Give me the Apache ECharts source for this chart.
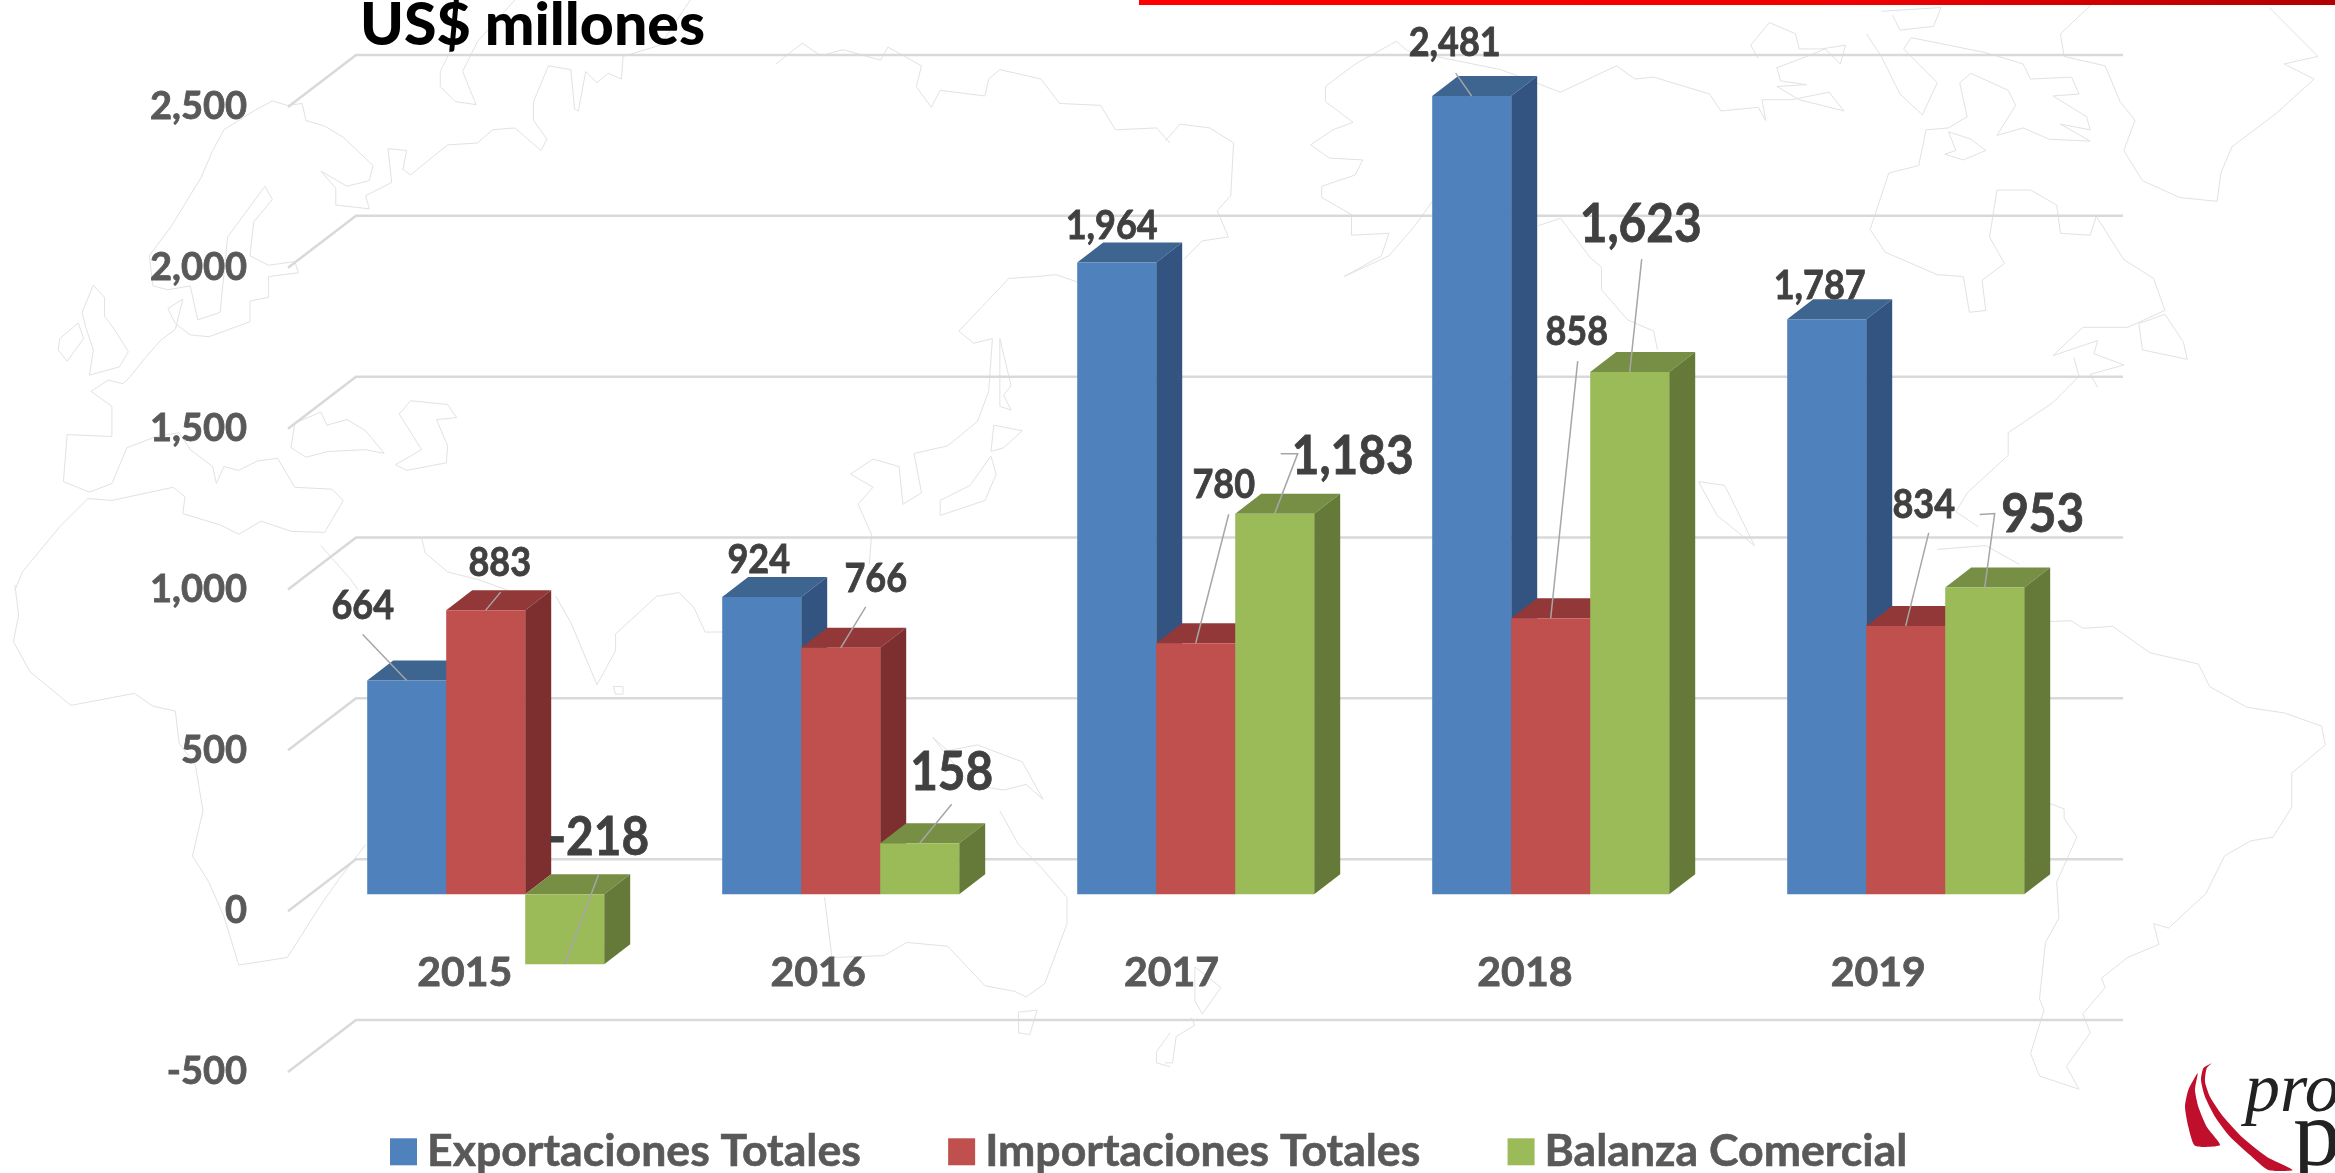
<!DOCTYPE html>
<html>
<head>
<meta charset="utf-8">
<title>US$ millones</title>
<script src="https://cdn.jsdelivr.net/npm/echarts@6/dist/echarts.min.js"></script>
<style>
  html, body { margin: 0; height: 100%; background: #fff; overflow: hidden; }
  #chart { width: 2335px; height: 1173px; }
</style>
</head>
<body>
<div id="chart"></div>
<script>
const years = ['2015', '2016', '2017', '2018', '2019']
const exportaciones = [664, 924, 1964, 2481, 1787]
const importaciones = [883, 766, 780, 858, 834]
const balanza = [-218, 158, 1183, 1623, 953]
const yTicks = [-500, 0, 500, 1000, 1500, 2000, 2500]

const fontName = 'Lato'
const barWidth = 79
const depth = { x: 26, y: -20 }
const wall = { x: 68, y: -52 }
// bars stand a little behind the labelled front edge of the floor
const plane = { x: 21, y: -17 }
// bar groups are spaced slightly wider than the year labels
const barDrift = 1.6

// label position, relative to the middle of the bar's top edge
const exportLabels = [[-44, -74], [-3, -37], [-5, -36], [-17, -53], [-7, -33]]
const importLabels = [[14, -47], [35, -69], [28, -158], [26, -286], [18, -121]]
const balanceLabels = [[34, -126], [32, -70], [78, -57], [11, -147], [58, -73]]
// leader lines, same reference point
const exportLeaders = [[[-44, -46]], null, null, [[-16, -23]], null]
const importLeaders = [[[15, -18]], [[25, -41]], [[33, -129]], [[27, -257]], [[23, -93]]]
const balanceLeaders = [[[34, -90]], [[32, -39]], [[6, -60], [23, -60]], [[12, -113]], [[-5, -73], [10, -74]]]

// background world map, traced by eye. x, y are in zoomed crop units, see mapLine()
const mapTopLeft = [
  [[205, 760], [200, 680], [230, 600], [270, 470], [285, 400], [300, 345], [340, 295], [365, 268], [385, 280], [405, 275], [410, 320], [435, 335], [460, 365], [500, 440], [495, 480], [465, 495], [430, 455], [450, 500], [450, 545], [495, 555], [490, 520], [525, 485], [520, 395], [545, 400], [540, 450], [550, 465], [600, 385], [640, 380], [660, 345], [690, 340], [725, 400], [733, 370], [715, 320], [715, 270], [735, 175], [765, 185], [770, 290], [775, 295], [785, 190], [800, 220], [815, 195], [833, 210], [835, 150], [885, 120], [925, 0]],
  [[605, 130], [590, 190], [590, 230], [610, 270], [638, 278], [620, 190], [640, 110], [690, 0]],
  [[205, 760], [225, 770], [255, 760], [265, 850], [295, 830], [305, 630], [355, 495], [365, 530], [340, 590], [335, 680], [360, 705], [395, 695], [400, 725], [360, 735], [360, 790], [335, 800], [335, 855], [280, 895], [255, 890], [235, 860], [225, 820], [245, 795], [235, 875], [215, 905], [195, 950], [175, 1000], [165, 1020], [145, 1010], [122, 1040], [150, 1080], [150, 1160], [90, 1155], [85, 1280], [120, 1308], [150, 1285], [170, 1190], [210, 1160], [240, 1150], [255, 1195], [285, 1240], [290, 1285], [300, 1240], [320, 1250], [345, 1225], [372, 1218], [395, 1295], [445, 1300], [460, 1330], [435, 1415], [390, 1412], [350, 1385], [320, 1420], [295, 1395], [245, 1365], [248, 1320], [232, 1295], [150, 1330], [118, 1325], [80, 1400], [30, 1520], [20, 1568]],
  [[110, 830], [125, 758], [140, 790], [140, 840], [155, 880], [172, 935], [160, 975], [120, 997], [125, 930], [115, 870], [110, 830]],
  [[80, 900], [105, 858], [112, 900], [90, 960], [78, 930], [80, 900]],
  [[395, 1125], [430, 1095], [438, 1130], [465, 1115], [490, 1145], [515, 1205], [490, 1195], [440, 1200], [410, 1215], [390, 1190], [395, 1125]],
  [[540, 1090], [550, 1065], [600, 1075], [612, 1110], [585, 1115], [600, 1185], [598, 1230], [545, 1250], [530, 1235], [565, 1195], [535, 1100], [540, 1090]],
  [[1040, 170], [1075, 115], [1100, 148], [1130, 132], [1180, 160], [1190, 125], [1235, 175], [1228, 230], [1248, 285], [1260, 240], [1320, 255], [1325, 210], [1340, 185], [1395, 210], [1420, 275], [1475, 280], [1495, 345], [1550, 340], [1568, 380]],
  [[1445, 750], [1415, 730], [1390, 735], [1352, 740], [1285, 880], [1305, 912], [1330, 900], [1325, 1040], [1310, 1120], [1270, 1185], [1225, 1205], [1235, 1310], [1210, 1340], [1205, 1240], [1170, 1220], [1140, 1260], [1170, 1295], [1150, 1340], [1168, 1420], [1165, 1500]],
  [[1340, 900], [1355, 1025], [1345, 1050], [1355, 1090], [1340, 1080], [1340, 900]],
  [[1332, 1130], [1370, 1145], [1345, 1190], [1328, 1200], [1332, 1130]],
  [[1328, 1212], [1335, 1260], [1320, 1330], [1260, 1370], [1260, 1330], [1300, 1290], [1328, 1212]],
  [[565, 1430], [570, 1470], [600, 1520], [640, 1540], [680, 1568]],
  [[430, 1450], [470, 1540], [480, 1568]]
]
const mapBottomLeft = [
  [[20, 0], [25, 80], [18, 150], [40, 230], [95, 320], [180, 288], [205, 322], [235, 335], [240, 420], [262, 480], [272, 600], [258, 720], [280, 790], [300, 880], [320, 1010], [385, 990], [430, 850], [455, 780], [490, 690]],
  [[745, 30], [765, 100], [800, 265], [825, 175], [825, 130], [880, 30], [910, 20], [930, 60], [945, 125], [968, 125]],
  [[822, 270], [835, 270], [835, 290], [825, 290], [822, 270]],
  [[1250, 405], [1270, 440], [1310, 425], [1370, 470], [1398, 570], [1375, 530], [1345, 545], [1300, 530], [1250, 405]],
  [[1340, 600], [1365, 690], [1395, 750], [1430, 830], [1430, 900], [1400, 1060], [1375, 1095], [1360, 1080], [1320, 1065], [1270, 960], [1215, 950], [1185, 985], [1115, 990], [1105, 830]],
  [[1365, 1135], [1390, 1130], [1380, 1195], [1365, 1190], [1365, 1135]],
  [[1568, 1190], [1550, 1240], [1550, 1270], [1568, 1280]]
]
const mapTopRight = [
  [[0, 375], [20, 330], [60, 340], [92, 380], [88, 520], [70, 560], [85, 630], [50, 640], [25, 690]],
  [[215, 230], [255, 170], [310, 110], [325, 135], [450, 185], [530, 245], [605, 175], [630, 210], [655, 205], [730, 250], [745, 295], [795, 285], [805, 320], [800, 265], [840, 265], [890, 245], [910, 295], [850, 265], [820, 230], [860, 225], [825, 215], [820, 180], [860, 150], [885, 130], [905, 170], [912, 120], [880, 130], [850, 130], [845, 90], [810, 60], [785, 120], [795, 155]],
  [[215, 230], [215, 270], [252, 325], [225, 345], [195, 385], [220, 420], [265, 425], [255, 465], [210, 495], [210, 525], [250, 570], [250, 625], [300, 620], [290, 680], [240, 735], [300, 680], [335, 600], [360, 530]],
  [[500, 600], [530, 580], [570, 685], [585, 710], [585, 770], [620, 850], [655, 880], [660, 930]],
  [[940, 90], [960, 150], [985, 250], [1015, 305], [1035, 220], [990, 130], [1000, 100], [1050, 120], [1100, 140], [1150, 170], [1160, 210], [1215, 205], [1225, 250], [1190, 255], [1235, 310], [1240, 345], [1200, 330], [1240, 375], [1185, 370], [1150, 340], [1115, 360], [1140, 280], [1130, 240], [1080, 195], [1065, 220], [1075, 310], [1050, 340], [1020, 345], [1010, 440], [970, 460], [945, 610], [965, 670], [1035, 730], [1070, 735], [1078, 830], [1100, 825], [1095, 745], [1125, 700], [1105, 630], [1115, 505], [1160, 505], [1195, 545], [1200, 620], [1240, 625], [1248, 575], [1285, 690], [1325, 740], [1340, 825], [1290, 870], [1230, 870], [1190, 945], [1250, 905], [1245, 940], [1285, 970], [1240, 995], [1250, 1030]],
  [[1050, 350], [1060, 400], [1045, 410], [1070, 425], [1100, 400], [1080, 370], [1050, 350]],
  [[1240, 15], [1200, 90], [1205, 150], [1260, 175], [1280, 270], [1300, 320], [1285, 400], [1310, 480], [1360, 525], [1410, 535], [1415, 460], [1430, 390], [1490, 300], [1540, 210], [1500, 170], [1545, 150], [1480, 20]],
  [[1305, 860], [1340, 835], [1365, 910], [1370, 955], [1310, 930], [1305, 860]],
  [[1218, 950], [1225, 1000], [1190, 1070], [1130, 1150], [1130, 1210], [1075, 1310], [1060, 1360], [1090, 1400]],
  [[715, 1280], [740, 1370], [790, 1450], [750, 1290], [715, 1280]],
  [[1035, 1460], [1100, 1450], [1145, 1500]],
  [[960, 30], [1040, 20], [1030, 70], [985, 80], [975, 40]]
]
const mapBottomRight = [
  [[1185, 97], [1215, 95], [1230, 115], [1270, 110], [1320, 180], [1385, 210], [1400, 270], [1450, 325], [1500, 340], [1550, 375], [1555, 425], [1510, 500], [1510, 590], [1485, 670], [1455, 680], [1420, 720], [1395, 820], [1365, 875], [1345, 912], [1325, 900], [1332, 955], [1290, 990], [1255, 1045], [1260, 1070], [1230, 1140], [1240, 1190], [1208, 1280], [1225, 1340], [1172, 1305], [1160, 1245], [1178, 1130], [1172, 1100], [1180, 950], [1198, 885], [1195, 790], [1222, 670], [1205, 620], [1205, 595], [1185, 580]],
  [[40, 1015], [75, 1070], [50, 1140], [40, 1105], [40, 1015]],
  [[35, 1150], [40, 1170], [15, 1200], [10, 1270], [0, 1270]]
]
const logoSwooshes = [
  [[893, 370], [865, 420], [855, 470], [865, 530], [885, 587], [960, 585], [920, 530], [895, 470], [885, 420]],
  [[935, 340], [910, 355], [903, 390], [915, 440], [945, 500], [990, 560], [1050, 615], [1105, 660], [1178, 660], [1100, 620], [1030, 565], [970, 500], [930, 440], [915, 395], [920, 355]]
]

function mapLine (lines, ox, oy) {
  return lines.map(pts => ({
    type: 'polyline',
    silent: true,
    shape: { points: pts.map(p => [ox + p[0] * 1170 / 1568, oy + p[1] * 590 / 1568]) },
    style: { stroke: '#e2e2e2', lineWidth: 1, fill: 'none' }
  }))
}

function barRenderer (colors, labels, leaders, fontSize, slot) {
  return function (params, api) {
    const cat = api.value(0)
    const val = api.value(1)
    const zero = api.coord([cat, 0])
    const end = api.coord([cat, val])
    const x0 = zero[0] + plane.x + cat * barDrift + (slot - 1.5) * barWidth
    const x1 = x0 + barWidth
    const yTop = Math.min(zero[1], end[1]) + plane.y
    const yBot = Math.max(zero[1], end[1]) + plane.y
    const tip = [x0 + barWidth / 2, end[1] + plane.y]
    const children = [
      {
        type: 'polygon',
        shape: { points: [[x0, yTop], [x0 + depth.x, yTop + depth.y], [x1 + depth.x, yTop + depth.y], [x1, yTop]] },
        style: { fill: colors[1] }
      },
      {
        type: 'polygon',
        shape: { points: [[x1, yTop], [x1 + depth.x, yTop + depth.y], [x1 + depth.x, yBot + depth.y], [x1, yBot]] },
        style: { fill: colors[2] }
      },
      {
        type: 'rect',
        shape: { x: x0, y: yTop, width: barWidth, height: yBot - yTop },
        style: { fill: colors[0] }
      }
    ]
    const leader = leaders[params.dataIndex]
    if (leader) {
      const pts = leader.map(p => [tip[0] + p[0], tip[1] + p[1]])
      pts.push(tip)
      children.push({
        type: 'polyline',
        shape: { points: pts },
        style: { stroke: '#a6a6a6', lineWidth: 1.5, fill: 'none' }
      })
    }
    const off = labels[params.dataIndex]
    // Calibri-like proportions: Lato squeezed a bit sideways
    children.push({
      type: 'text',
      z2: 10,
      x: tip[0] + off[0],
      y: tip[1] + off[1],
      scaleX: 0.9,
      style: {
        text: val.toLocaleString('en-US'),
        x: 0,
        y: 0,
        align: 'center',
        verticalAlign: 'middle',
        fontFamily: fontName,
        fontWeight: 'bold',
        fontSize: fontSize,
        fill: '#404040',
        stroke: '#404040',
        lineWidth: 0.8
      }
    })
    return { type: 'group', children: children }
  }
}

function barSeries (name, values, colors, labels, leaders, fontSize, slot) {
  return {
    name: name,
    type: 'custom',
    itemStyle: { color: colors[0] },
    clip: false,
    encode: { x: 0, y: 1 },
    data: values.map((v, i) => [i, v]),
    renderItem: barRenderer(colors, labels, leaders, fontSize, slot)
  }
}

const chart = echarts.init(document.getElementById('chart'))
chart.setOption({
  backgroundColor: '#fff',
  animation: false,
  title: {
    text: 'US$ millones',
    left: 355,
    top: -9,
    textStyle: { fontFamily: fontName, fontWeight: 900, fontSize: 59, color: '#000' }
  },
  grid: { left: 288, width: 1767, top: 107, height: 965 },
  xAxis: {
    type: 'category',
    data: years,
    axisLine: { show: false, onZero: false },
    axisTick: { show: false },
    axisLabel: {
      // labels sit just under the zero floor, not under the -500 edge
      margin: -120,
      fontFamily: fontName,
      fontWeight: 'bold',
      fontSize: 41,
      color: '#595959',
      textBorderColor: '#595959',
      textBorderWidth: 0.8
    }
  },
  yAxis: {
    type: 'value',
    min: -500,
    max: 2500,
    interval: 500,
    axisLine: { show: false },
    splitLine: { show: false },
    axisLabel: {
      margin: 41,
      padding: [6, 0, 0, 0],
      fontFamily: fontName,
      fontWeight: 'bold',
      fontSize: 38,
      color: '#595959',
      textBorderColor: '#595959',
      textBorderWidth: 0.8,
      formatter: v => v.toLocaleString('en-US')
    }
  },
  legend: {
    left: 385,
    top: 1124,
    itemWidth: 27,
    itemHeight: 27,
    itemGap: 87,
    icon: 'rect',
    textStyle: {
      fontFamily: fontName,
      fontWeight: 'bold',
      fontSize: 44.6,
      color: '#595959',
      textBorderColor: '#595959',
      textBorderWidth: 0.6,
      padding: [0, 0, 0, 5]
    },
    data: ['Exportaciones Totales', 'Importaciones Totales', 'Balanza Comercial']
  },
  graphic: [
    ...mapLine(mapTopLeft, 0, 0),
    ...mapLine(mapBottomLeft, 0, 585),
    ...mapLine(mapTopRight, 1165, 0),
    ...mapLine(mapBottomRight, 1165, 585),
    {
      type: 'rect',
      shape: { x: 1139, y: 0, width: 1196, height: 5 },
      style: {
        fill: new echarts.graphic.LinearGradient(0, 0, 1, 0, [
          { offset: 0, color: '#ff0000' },
          { offset: 0.6, color: '#f00000' },
          { offset: 1, color: '#b00000' }
        ])
      }
    },
    ...logoSwooshes.map(pts => ({
      type: 'polygon',
      shape: { points: pts.map(p => [1900 + p[0] / 3, 950 + p[1] / 3]), smooth: 0.2 },
      style: { fill: '#c00f2c' }
    })),
    {
      type: 'text',
      style: { text: 'pro', x: 2245, y: 1128, verticalAlign: 'bottom', fontFamily: 'Liberation Serif', fontStyle: 'italic', fontSize: 70, fill: '#222' }
    },
    {
      type: 'text',
      style: { text: 'p', x: 2293, y: 1188, verticalAlign: 'bottom', fontFamily: 'Liberation Serif', fontSize: 96, fill: '#222' }
    }
  ],
  series: [
    {
      type: 'custom',
      silent: true,
      clip: false,
      encode: { y: 0 },
      data: yTicks,
      renderItem (params, api) {
        const rect = params.coordSys
        const y = api.coord([0, api.value(0)])[1]
        return {
          type: 'polyline',
          shape: {
            points: [
              [rect.x, y],
              [rect.x + wall.x, y + wall.y],
              [rect.x + rect.width + wall.x, y + wall.y]
            ]
          },
          style: { stroke: '#d9d9d9', lineWidth: 2.5, fill: 'none' }
        }
      }
    },
    barSeries('Exportaciones Totales', exportaciones, ['#4f81bd', '#3e6490', '#335480'], exportLabels, exportLeaders, 40, 0),
    barSeries('Importaciones Totales', importaciones, ['#c0504d', '#923838', '#7c2f2e'], importLabels, importLeaders, 40, 1),
    barSeries('Balanza Comercial', balanza, ['#9bbb59', '#778e45', '#657a38'], balanceLabels, balanceLeaders, 53, 2)
  ]
})
</script>
</body>
</html>
